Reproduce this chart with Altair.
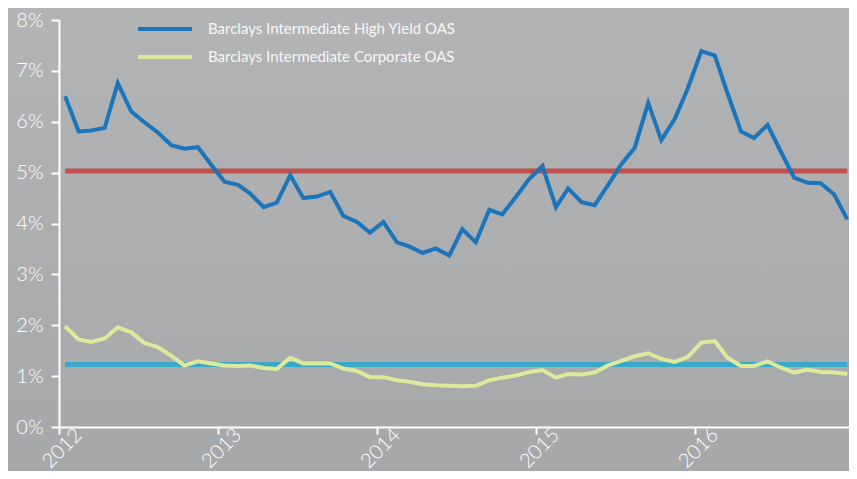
import altair as alt
import pandas as pd

# ---- data ----
series_names = ["Barclays Intermediate High Yield OAS", "Barclays Intermediate Corporate OAS"]
avg_names = ["High Yield average", "Corporate average"]

months = [f"{y}-{m:02d}-15" for y in range(2012, 2017) for m in range(1, 13)]

high_yield = [6.50, 5.81, 5.83, 5.88, 6.76, 6.20, 5.99, 5.79, 5.54, 5.47,
              5.50, 5.16, 4.82, 4.76, 4.59, 4.32, 4.41, 4.95, 4.50, 4.53,
              4.62, 4.15, 4.03, 3.82, 4.03, 3.63, 3.55, 3.42, 3.51, 3.37,
              3.89, 3.63, 4.27, 4.18, 4.52, 4.87, 5.13, 4.32, 4.69, 4.42,
              4.36, 4.76, 5.16, 5.49, 6.37, 5.64, 6.06, 6.66, 7.39, 7.30,
              6.56, 5.81, 5.68, 5.94, 5.42, 4.90, 4.80, 4.79, 4.57, 4.08]

corporate = [1.98, 1.72, 1.67, 1.74, 1.96, 1.86, 1.65, 1.57, 1.40, 1.21,
             1.29, 1.25, 1.21, 1.20, 1.21, 1.16, 1.14, 1.36, 1.25, 1.25,
             1.25, 1.15, 1.10, 0.98, 0.98, 0.92, 0.89, 0.84, 0.82, 0.81,
             0.80, 0.81, 0.92, 0.97, 1.01, 1.08, 1.12, 0.97, 1.04, 1.03,
             1.07, 1.21, 1.30, 1.39, 1.45, 1.34, 1.28, 1.38, 1.66, 1.69,
             1.36, 1.20, 1.20, 1.29, 1.17, 1.07, 1.13, 1.08, 1.07, 1.04]

averages = [5.03, 1.23]
years = [2012, 2013, 2014, 2015, 2016]
y_ticks = [0, 1, 2, 3, 4, 5, 6, 7, 8]

# ---- styling ----
BLUE = "#1b75bb"
YELLOW = "#dfe99b"
RED = "#c0504d"
CYAN = "#38a9c9"
WHITE = "#ffffff"
FONT = "Lato"

df = pd.DataFrame({
    "date": months * 2,
    "value": high_yield + corporate,
    "series": [series_names[0]] * len(months) + [series_names[1]] * len(months),
})
avg_df = pd.DataFrame({
    "start": [months[0]] * 2,
    "end": [months[-1]] * 2,
    "level": averages,
    "series": avg_names,
})

color_scale = alt.Scale(domain=series_names + avg_names, range=[BLUE, YELLOW, RED, CYAN])

x_scale = alt.Scale(domain=[alt.DateTime(year=2012, month=1, date=1),
                            alt.DateTime(year=2016, month=12, date=19)])
y_scale = alt.Scale(domain=[0, 8], nice=False)

x_axis = alt.Axis(values=[alt.DateTime(year=y, month=1, date=1) for y in years],
                  format="%Y", labelAngle=-45, labelAlign="center", labelBaseline="middle",
                  labelPadding=14, labelOffset=3, tickSize=7, title=None, grid=False,
                  domainColor=WHITE, domainWidth=2, tickColor=WHITE, tickWidth=2,
                  labelColor=WHITE, labelFont=FONT, labelFontSize=20, labelFontWeight=300,
                  zindex=1)
y_axis = alt.Axis(values=y_ticks, labelExpr="datum.value + '%'", tickSize=8, labelPadding=8,
                  title=None, grid=False, domainColor=WHITE, domainWidth=2,
                  tickColor=WHITE, tickWidth=2, labelColor=WHITE, labelFont=FONT,
                  labelFontSize=20, labelFontWeight=300, zindex=1)

gradient = alt.LinearGradient(
    gradient="linear",
    stops=[alt.GradientStop(color="#b3b4b6", offset=0),
           alt.GradientStop(color="#a6a7a9", offset=1)],
    x1=0, x2=0, y1=0, y2=1,
)

bg = alt.Chart(pd.DataFrame({"a": [0]})).mark_rect(fill=gradient).encode(
    x=alt.value(-60), x2=alt.value(800), y=alt.value(-20), y2=alt.value(480)
)

rules = alt.Chart(avg_df).mark_rule(strokeWidth=5).encode(
    x=alt.X("start:T", scale=x_scale, axis=x_axis),
    x2="end:T",
    y=alt.Y("level:Q", scale=y_scale, axis=y_axis),
    color=alt.Color("series:N", scale=color_scale, legend=None),
)

lines = alt.Chart(df).mark_line(strokeWidth=4).encode(
    x=alt.X("date:T", scale=x_scale, axis=x_axis),
    y=alt.Y("value:Q", scale=y_scale, axis=y_axis),
    color=alt.Color("series:N", scale=color_scale, legend=None),
)

legend_layers = []
for i, (name, col) in enumerate(zip(series_names, [BLUE, YELLOW])):
    ypos = 9 + 28 * i
    src = pd.DataFrame({"label": [name]})
    legend_layers.append(
        alt.Chart(src).mark_rule(strokeWidth=4, color=col).encode(
            x=alt.value(79), x2=alt.value(133), y=alt.value(ypos))
    )
    legend_layers.append(
        alt.Chart(src).mark_text(align="left", baseline="middle", font=FONT,
                                 fontSize=15, color="#f7f7f7").encode(
            x=alt.value(149), y=alt.value(ypos), text="label:N")
    )

chart = alt.layer(bg, rules, lines, *legend_layers).properties(
    width=790,
    height=407,
    autosize=alt.AutoSizeParams(type="none"),
    padding={"left": 51, "top": 12, "right": 0, "bottom": 44},
    background="#adaeb0",
).configure_view(strokeWidth=0)

chart.save("out.html", embed_options={"renderer": "svg", "actions": False})
